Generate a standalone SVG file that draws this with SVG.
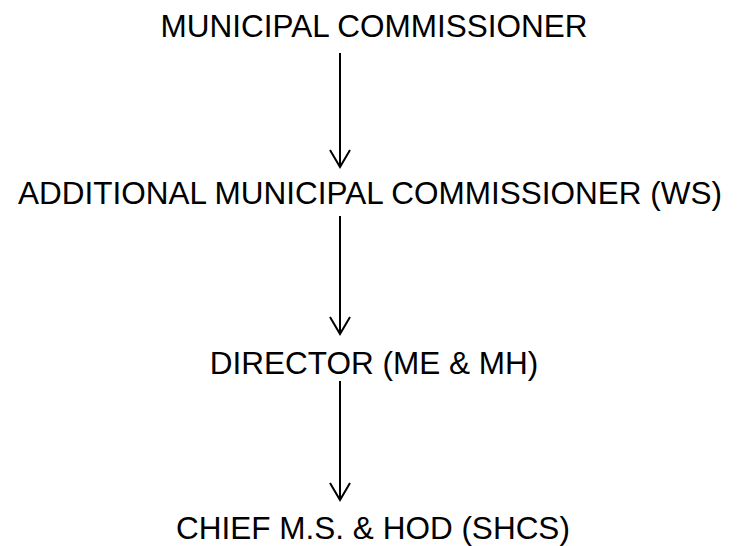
<svg xmlns="http://www.w3.org/2000/svg" width="738" height="546" viewBox="0 0 738 546">
<defs>
<style>
.lbl{font-family:"Liberation Sans",Arial,sans-serif;font-size:31.5px;fill:#000;text-anchor:middle}
.edge{stroke:#000;stroke-width:2;fill:none}
</style>
</defs>
<rect width="738" height="546" fill="#fff"/>
<g id="n1"><text class="lbl" x="374" y="37">MUNICIPAL COMMISSIONER</text></g>
<g id="n2"><text class="lbl" x="370" y="204">ADDITIONAL MUNICIPAL COMMISSIONER (WS)</text></g>
<g id="n3"><text class="lbl" x="374" y="374">DIRECTOR (ME &amp; MH)</text></g>
<g id="n4"><text class="lbl" x="373" y="539">CHIEF M.S. &amp; HOD (SHCS)</text></g>
<g id="connectors">
<path class="edge" d="M340 53 V167"/>
<path class="edge" d="M330 150 L340 167 L350 150"/>
<path class="edge" d="M340 216 V334"/>
<path class="edge" d="M330 317 L340 334 L350 317"/>
<path class="edge" d="M340 381 V500"/>
<path class="edge" d="M330 483 L340 500 L350 483"/>
</g>
</svg>
